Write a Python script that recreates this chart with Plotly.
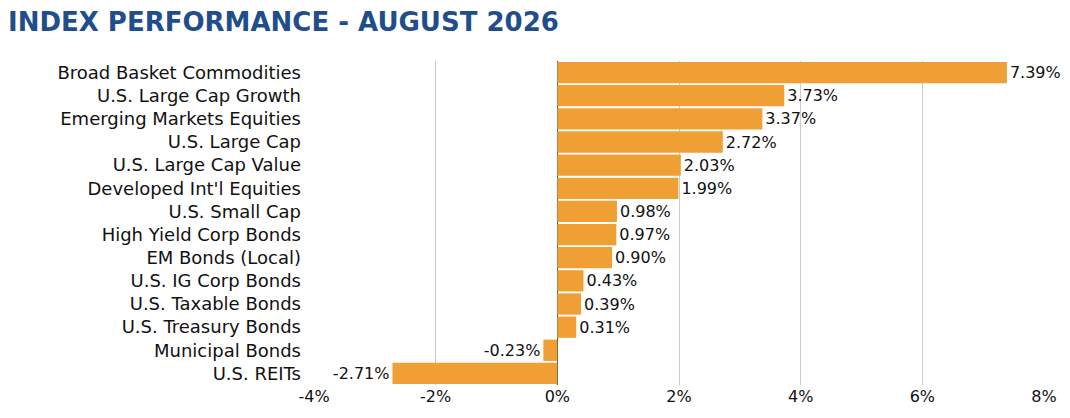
import plotly.graph_objects as go

# Index returns for August 2026 (percent)
categories = [
    "Broad Basket Commodities", "U.S. Large Cap Growth", "Emerging Markets Equities",
    "U.S. Large Cap", "U.S. Large Cap Value", "Developed Int'l Equities",
    "U.S. Small Cap", "High Yield Corp Bonds", "EM Bonds (Local)",
    "U.S. IG Corp Bonds", "U.S. Taxable Bonds", "U.S. Treasury Bonds",
    "Municipal Bonds", "U.S. REITs",
]
returns = [7.39, 3.73, 3.37, 2.72, 2.03, 1.99, 0.98, 0.97, 0.90, 0.43, 0.39, 0.31, -0.23, -2.71]
tick_vals = [-4, -2, 0, 2, 4, 6, 8]
tick_text = ["-4%", "-2%", "0%", "2%", "4%", "6%", "8%"]

bar_color = "#F09F35"
title_color = "#1F4E8C"
font_family = "'DejaVu Sans', sans-serif"

fig = go.Figure()
fig.add_trace(go.Bar(
    x=returns,
    y=categories,
    orientation="h",
    marker=dict(color=bar_color, line=dict(width=0)),
    text=[f"{v:.2f}%" for v in returns],
    textposition="outside",
    textfont=dict(color="#111111", size=16, family=font_family),
    cliponaxis=False,
    hovertemplate="<b>%{y}</b><br>%{x:.2f}%<extra></extra>",
))

fig.update_layout(
    width=1070, height=418,
    margin=dict(l=306, r=34, t=53, b=41),
    paper_bgcolor="white", plot_bgcolor="white",
    bargap=0.08,
    showlegend=False,
    font=dict(family=font_family, color="#111111"),
    title=dict(
        text="<b>INDEX PERFORMANCE - AUGUST 2026</b>",
        xref="container", yref="container",
        x=0.0, xanchor="left", y=0.966, yanchor="middle",
        pad=dict(l=0, t=0, b=0, r=0),
        font=dict(size=26, color=title_color, family="'DejaVu Sans', sans-serif"),
    ),
)

fig.update_xaxes(
    range=[-4, 8], tickvals=tick_vals, ticktext=tick_text,
    showgrid=True, gridcolor="#CCCCCC", gridwidth=1,
    zeroline=True, zerolinecolor="#555555", zerolinewidth=1,
    tickfont=dict(size=16, color="#111111"), ticks="", showline=False,
)
fig.update_yaxes(
    autorange="reversed", tickfont=dict(size=18, color="#111111"),
    ticks="", ticklen=0, showline=False, showgrid=False,
    ticklabelstandoff=12,
)

fig.write_html("out.html")
